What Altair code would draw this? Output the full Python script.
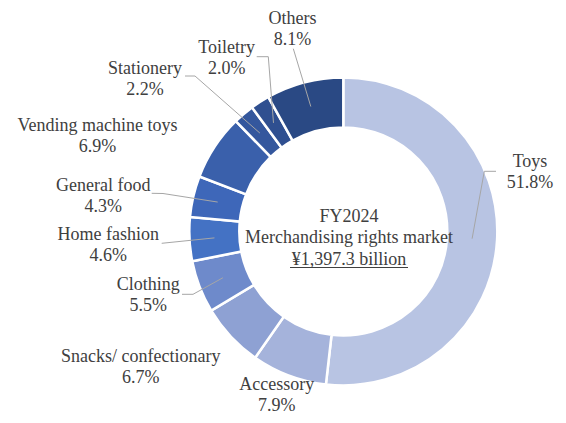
import math
import altair as alt
import pandas as pd

# ---- data ----
categories = ["Toys", "Accessory", "Snacks/ confectionary", "Clothing", "Home fashion",
              "General food", "Vending machine toys", "Stationery", "Toiletry", "Others"]
shares = [51.8, 7.9, 6.7, 5.5, 4.6, 4.3, 6.9, 2.2, 2.0, 8.1]
colors = ["#B8C4E3", "#A5B3DB", "#8EA1D3", "#6E8ACB", "#4472C4",
          "#3E67B9", "#3A60AB", "#34579D", "#2F4F90", "#2A4984"]
center_lines = ["FY2024", "Merchandising rights market", "¥1,397.3 billion"]

# ---- layout (chart pixel coords, page minus 8px margin) ----
CX, CY = 335.3, 223.4
R_IN, R_OUT = 104, 154
R_MID = (R_IN + R_OUT) / 2
FONT = "Liberation Serif, Liberation Sans, sans-serif"
TXT = "#404040"
LINE_H = 21
FS = 18

# label centre x and first-line baseline y (page coords)
label_pos = {
    "Toys": (530, 166.7),
    "Accessory": (276.7, 389.5),
    "Snacks/ confectionary": (140.8, 361.7),
    "Clothing": (148.3, 290),
    "Home fashion": (108.3, 240),
    "General food": (103.3, 191),
    "Vending machine toys": (97.5, 130.5),
    "Stationery": (145, 74),
    "Toiletry": (226.7, 53.3),
    "Others": (292.5, 23.5),
}
# leader line start points (page coords) before reaching the slice middle
leader_start = {
    "Toys": [(496, 171.3), (484.3, 171.3)],
    "Clothing": [(182, 294.3), (193, 294.3)],
    "Home fashion": [(161.7, 243.3)],
    "General food": [(151.7, 193.3), (163, 193.5)],
    "Stationery": [(185, 76), (195, 76)],
    "Toiletry": [(256.7, 56.7), (268.3, 56.7)],
    "Others": [(293.3, 48.7)],
}

df = pd.DataFrame({"cat": categories, "share": shares, "idx": range(len(categories))})

mids = {}
cum = 0.0
for c, s in zip(categories, shares):
    a = (cum + s / 2) / 100 * 2 * math.pi
    mids[c] = (CX + R_MID * math.sin(a), CY - R_MID * math.cos(a))
    cum += s

labels = pd.DataFrame({
    "cat": categories,
    "pct": [f"{s:.1f}%" for s in shares],
    "nx": [label_pos[c][0] - 8 for c in categories],
    "ny": [label_pos[c][1] - 8 for c in categories],
})
labels["py"] = labels["ny"] + LINE_H

rows = []
for c, pts in leader_start.items():
    k = 0
    for (px, py) in pts:
        rows.append({"cat": c, "k": k, "lx": px - 8, "ly": py - 8})
        k += 1
    mx, my = mids[c]
    rows.append({"cat": c, "k": k, "lx": mx, "ly": my})
leaders = pd.DataFrame(rows)

donut = alt.Chart(df).mark_arc(innerRadius=R_IN, outerRadius=R_OUT, stroke="white", strokeWidth=2.5).encode(
    theta=alt.Theta("share:Q", stack=True),
    order=alt.Order("idx:Q"),
    color=alt.Color("cat:N", scale=alt.Scale(domain=categories, range=colors), legend=None),
    x=alt.value(CX), y=alt.value(CY),
)

lines = alt.Chart(leaders).mark_line(color="#A6A6A6", strokeWidth=1).encode(
    x=alt.X("lx:Q", scale=None), y=alt.Y("ly:Q", scale=None),
    detail="cat:N", order="k:Q",
)

names = alt.Chart(labels).mark_text(font=FONT, fontSize=FS, color=TXT, align="center", baseline="alphabetic").encode(
    x=alt.X("nx:Q", scale=None), y=alt.Y("ny:Q", scale=None), text="cat:N",
)
pcts = alt.Chart(labels).mark_text(font=FONT, fontSize=FS, color=TXT, align="center", baseline="alphabetic").encode(
    x=alt.X("nx:Q", scale=None), y=alt.Y("py:Q", scale=None), text="pct:N",
)

center_df = pd.DataFrame({"t": center_lines, "y": [213.7, 235.3, 257.0]})
center_text = alt.Chart(center_df).mark_text(font=FONT, fontSize=FS, color=TXT, align="center", baseline="alphabetic").encode(
    x=alt.value(341), y=alt.Y("y:Q", scale=None), text="t:N",
)
underline = alt.Chart(pd.DataFrame({"a": [0]})).mark_rule(color=TXT, strokeWidth=1).encode(
    x=alt.value(282), x2=alt.value(400), y=alt.value(259.5),
)

chart = alt.layer(donut, lines, names, pcts, center_text, underline).properties(
    width=550, height=407, autosize=alt.AutoSizeParams(type="none"), padding=0,
).configure_view(stroke=None)

chart.save("out.html", embed_options={"renderer": "svg", "actions": False})
